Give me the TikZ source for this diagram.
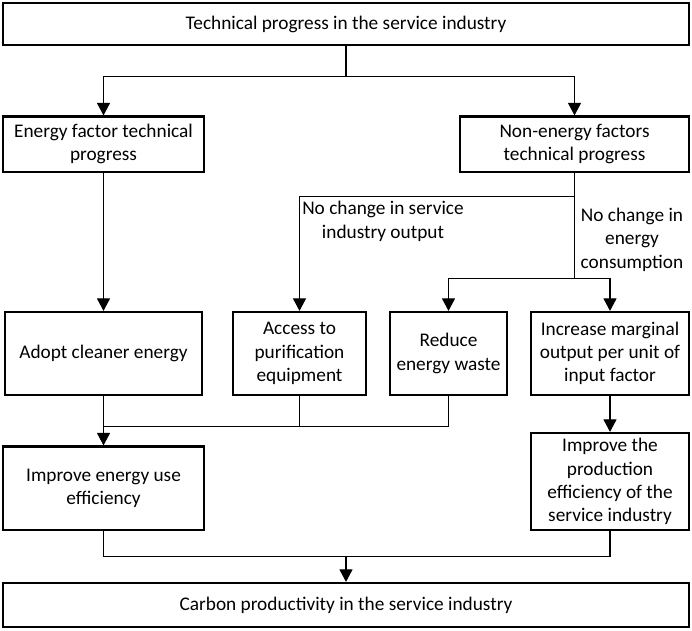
\documentclass[tikz,border=0pt]{standalone}
\usepackage{fontspec}
\setmainfont{Carlito}
\usetikzlibrary{arrows.meta}

\begin{document}
\begin{tikzpicture}[x=1pt,y=-1pt,
    box/.style={draw,line width=2.2pt,align=center,inner sep=2pt,
        font=\fontsize{19.3}{23.3}\selectfont},
    lbl/.style={align=center,inner sep=0pt,font=\fontsize{19.3}{23.3}\selectfont},
    conn/.style={line width=1.1pt},
    arr/.style={line width=1.1pt,-{Triangle[length=12.5pt,width=13pt]}}]
    \useasboundingbox (0,0) rectangle (692,630);
    \node [box,minimum width=686pt,minimum height=42pt] (top) at (346,24) {Technical progress in the service industry};
    \node [box,minimum width=201pt,minimum height=55.5pt] (energy) at (103.5,144.25) {Energy factor technical\\progress};
    \node [box,minimum width=229pt,minimum height=55.5pt] (nonenergy) at (574.5,144.25) {Non-energy factors\\technical progress};
    \node [box,minimum width=197pt,minimum height=83pt] (adopt) at (103.5,353.5) {Adopt cleaner energy};
    \node [box,minimum width=133pt,minimum height=83pt] (access) at (299.5,353.5) {Access to\\purification\\equipment};
    \node [box,minimum width=117pt,minimum height=83pt] (reduce) at (448.5,353.5) {Reduce\\energy waste};
    \node [box,minimum width=158pt,minimum height=83pt] (marginal) at (610,353.5) {Increase marginal\\output per unit of\\input factor};
    \node [box,minimum width=201pt,minimum height=83.5pt] (useeff) at (103.5,488.25) {Improve energy use\\efficiency};
    \node [box,minimum width=158pt,minimum height=97pt] (prodeff) at (610,481.5) {Improve the\\production\\efficiency of the\\service industry};
    \node [box,minimum width=686pt,minimum height=44pt] (carbon) at (346,605) {Carbon productivity in the service industry};
    \node [lbl,anchor=base] (outputlbl) at (383,238) {No change in service\\industry output};
    \node [lbl,anchor=base] (consumelbl) at (632,268) {No change in\\energy\\consumption};
    \coordinate (splittop) at (346,76.5);
    \coordinate (splitout) at (574.5,196.5);
    \coordinate (splitcons) at (574.5,278.5);
    \coordinate (mergeleft) at (103.5,426.5);
    \coordinate (mergebottom) at (346,556.5);
    \draw [conn] (top.south) -- (splittop);
    \draw [arr] (splittop) -| (energy.north);
    \draw [arr] (splittop) -| (nonenergy.north);
    \draw [arr] (energy.south) -- (adopt.north);
    \draw [conn] (nonenergy.south) -- (splitcons);
    \draw [arr] (splitout) -| (access.north);
    \draw [arr] (splitcons) -| (reduce.north);
    \draw [arr] (splitcons) -| (marginal.north);
    \draw [conn] (access.south) |- (mergeleft);
    \draw [conn] (reduce.south) |- (mergeleft);
    \draw [arr] (adopt.south) -- (useeff.north);
    \draw [arr] (marginal.south) -- (prodeff.north);
    \draw [conn] (useeff.south) |- (mergebottom);
    \draw [conn] (prodeff.south) |- (mergebottom);
    \draw [arr] (mergebottom) -- (carbon.north);
\end{tikzpicture}
\end{document}
